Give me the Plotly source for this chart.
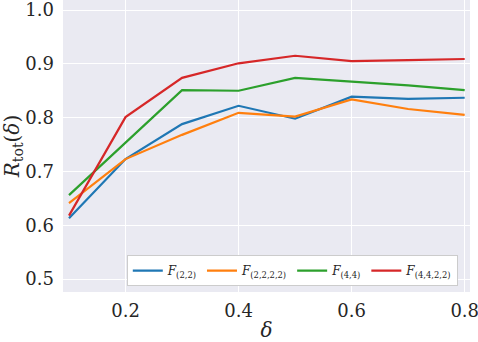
import plotly.graph_objects as go

delta = [0.1, 0.2, 0.3, 0.4, 0.5, 0.6, 0.7, 0.8]

r_22 = [0.613, 0.723, 0.788, 0.822, 0.798, 0.839, 0.835, 0.837]
r_2222 = [0.641, 0.723, 0.768, 0.809, 0.802, 0.834, 0.816, 0.805]
r_44 = [0.656, 0.754, 0.851, 0.850, 0.874, 0.867, 0.860, 0.851]
r_4422 = [0.618, 0.801, 0.874, 0.901, 0.915, 0.905, 0.907, 0.909]

series_names = ['(2,2)', '(2,2,2,2)', '(4,4)', '(4,4,2,2)']
series_values = [r_22, r_2222, r_44, r_4422]
colors = ['#1f77b4', '#ff7f0e', '#2ca02c', '#d62728']

x_ticks = [0.2, 0.4, 0.6, 0.8]
y_ticks = [0.5, 0.6, 0.7, 0.8, 0.9, 1.0]

serif = 'DejaVu Serif'

fig = go.Figure()
for name, vals, col in zip(series_names, series_values, colors):
    fig.add_trace(go.Scatter(
        x=delta, y=vals, mode='lines',
        name=f'<i>F</i><sub>{name}</sub>',
        line=dict(color=col, width=2.2),
    ))

fig.update_layout(
    width=478, height=342,
    margin=dict(l=63, r=8, t=0, b=50),
    plot_bgcolor='#EAEAF2',
    paper_bgcolor='white',
    font=dict(family=serif, size=18, color='#262626'),
    legend=dict(
        orientation='h',
        x=0.97, xanchor='right',
        y=0.02, yanchor='bottom',
        bgcolor='white',
        bordercolor='#cccccc', borderwidth=1,
        font=dict(family=serif, size=12),
        itemwidth=30,
        tracegroupgap=0,
    ),
)
fig.update_xaxes(
    range=[0.0894, 0.8094], automargin=False,
    tickvals=x_ticks, ticktext=[f'{v:.1f}' for v in x_ticks],
    ticklabeloverflow='allow', ticklabelstandoff=6,
    tickfont=dict(family=serif, size=18),
    showgrid=True, gridcolor='white', gridwidth=1.2,
    zeroline=False, showline=False, ticks='',
    title=dict(text='<i>δ</i>', standoff=8, font=dict(family=serif, size=20)),
)
fig.update_yaxes(
    range=[0.476, 1.0186], automargin=False,
    tickvals=y_ticks, ticktext=[f'{v:.1f}' for v in y_ticks],
    ticklabeloverflow='allow', ticklabelstandoff=8,
    tickfont=dict(family=serif, size=18),
    showgrid=True, gridcolor='white', gridwidth=1.2,
    zeroline=False, showline=False, ticks='',
    title=dict(text='<i>R</i><sub>tot</sub>(<i>δ</i>)', standoff=0,
               font=dict(family=serif, size=20)),
)

fig.write_html('out.html', config={'displayModeBar': False},
               post_script="document.body.style.margin='0';")
